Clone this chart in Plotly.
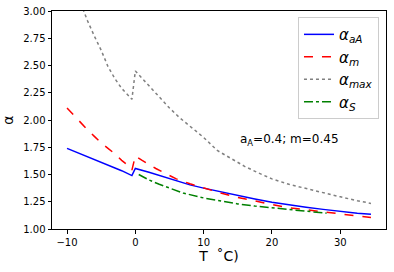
import plotly.graph_objects as go

# Temperatures (°C) and read-off values
T_aA = [-10, -8, -6, -4, -2, -0.5, 0, 2, 4, 6, 8, 10, 12.5, 15, 17.5, 20, 22.5, 25, 27.5, 30, 32.5, 34.5]
a_aA = [1.74, 1.69, 1.64, 1.585, 1.535, 1.49, 1.555, 1.52, 1.48, 1.44, 1.405, 1.375, 1.34, 1.305,
        1.275, 1.245, 1.22, 1.20, 1.18, 1.16, 1.145, 1.135]

T_m = [-10, -9, -8, -7, -6, -5, -4, -3, -2, -1, -0.5, 0, 1, 2, 3, 4.4, 6, 8, 10, 12.5, 15, 17.5,
       20, 22.5, 25, 27.5, 30, 32.5, 34.5]
a_m = [2.11, 2.04, 1.97, 1.91, 1.85, 1.79, 1.74, 1.69, 1.63, 1.58, 1.54, 1.67, 1.63, 1.59, 1.555,
       1.51, 1.46, 1.415, 1.375, 1.33, 1.29, 1.255, 1.225, 1.195, 1.175, 1.155, 1.135, 1.12, 1.105]

T_max = [-8, -7, -6, -5, -4, -3, -2, -1, -0.5, 0, 1, 2, 3.5, 5, 6.5, 8, 10, 12, 14, 16, 18, 20,
         22.5, 25, 27.5, 30, 32.5, 34.5]
a_max = [3.07, 2.91, 2.77, 2.64, 2.49, 2.38, 2.29, 2.22, 2.19, 2.45, 2.38, 2.31, 2.21, 2.11, 2.02,
         1.94, 1.84, 1.72, 1.645, 1.575, 1.515, 1.46, 1.41, 1.37, 1.33, 1.295, 1.26, 1.235]

T_S = [0.5, 2, 3.5, 5, 7, 10, 12.5, 15, 17.5, 20, 22.5, 25, 28]
a_S = [1.50, 1.45, 1.41, 1.375, 1.33, 1.285, 1.255, 1.23, 1.21, 1.195, 1.175, 1.16, 1.145]

x_ticks = [-10, 0, 10, 20, 30]
y_ticks = [1.00, 1.25, 1.50, 1.75, 2.00, 2.25, 2.50, 2.75, 3.00]

font = "DejaVu Sans"
fig = go.Figure()
fig.add_trace(go.Scatter(x=T_aA, y=a_aA, mode="lines", name="<i>α<sub>aA</sub></i>",
                         line=dict(color="blue", width=1.5)))
fig.add_trace(go.Scatter(x=T_m, y=a_m, mode="lines", name="<i>α<sub>m</sub></i>",
                         line=dict(color="red", width=1.5, dash="dash")))
fig.add_trace(go.Scatter(x=T_max, y=a_max, mode="lines", name="<i>α<sub>max</sub></i>",
                         line=dict(color="grey", width=1.5, dash="dot")))
fig.add_trace(go.Scatter(x=T_S, y=a_S, mode="lines", name="<i>α<sub>S</sub></i>",
                         line=dict(color="green", width=1.5, dash="dashdot")))

fig.add_annotation(x=15.1, y=1.82, xanchor="left", yanchor="middle", showarrow=False,
                   text="a<sub>A</sub>=0.4; m=0.45", font=dict(family=font, size=12, color="black"))

axis_common = dict(showgrid=False, zeroline=False, showline=True, linecolor="black", linewidth=1,
                   mirror=True, ticks="outside", ticklen=3.5, tickcolor="black", automargin=False,
                   ticklabeloverflow="allow",
                   tickfont=dict(family=font, size=10, color="black"))
fig.update_xaxes(range=[-12.2, 36.7], tickvals=x_ticks,
                 title=dict(text="T  ˚C)", font=dict(family=font, size=14, color="black"), standoff=4),
                 **axis_common)
fig.update_yaxes(range=[1.0, 3.0], tickvals=y_ticks, tickformat=".2f",
                 title=dict(text="α", font=dict(family=font, size=14, color="black"), standoff=6),
                 **axis_common)

fig.update_layout(
    width=394, height=272,
    margin=dict(l=52, r=8, t=11, b=43),
    paper_bgcolor="white", plot_bgcolor="white",
    font=dict(family=font, color="black"),
    legend=dict(x=0.979, y=0.972, xanchor="right", yanchor="top",
                bgcolor="rgba(255,255,255,0.8)", bordercolor="#cccccc", borderwidth=1,
                font=dict(family=font, size=15, color="black"), tracegroupgap=0),
)

# remove the page's default body margin so the figure fills the window exactly
fig.write_html("out.html", config={"displayModeBar": False},
               post_script="document.body.style.margin='0';document.body.style.overflow='hidden';")
